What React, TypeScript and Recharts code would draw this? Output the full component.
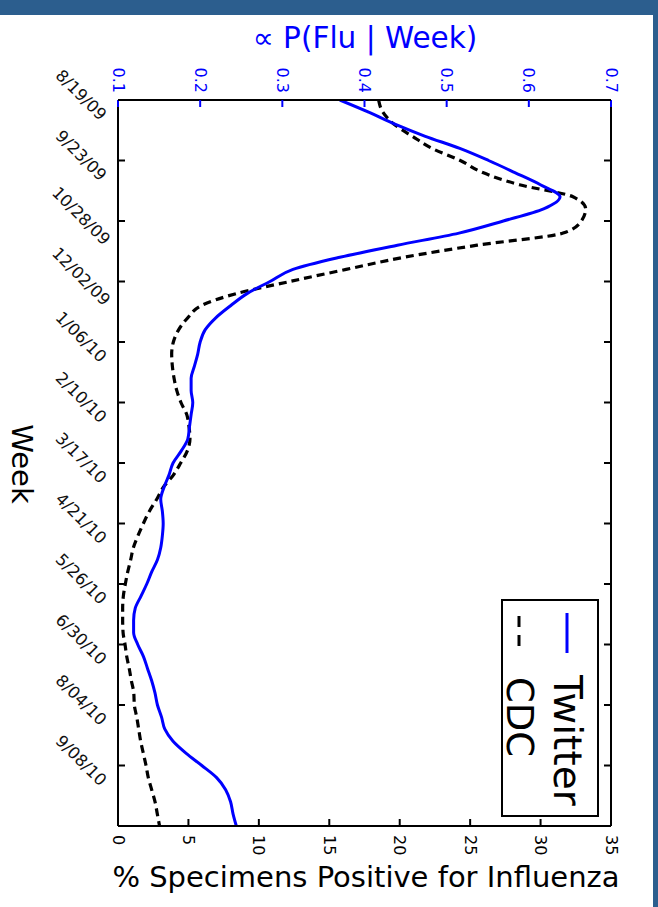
import React from 'react';
import { LineChart, Line, XAxis, YAxis } from 'recharts';

const weeks = [
  0, 1, 2, 3, 4, 5, 6, 7, 8, 9, 10, 11, 12, 13, 14, 15, 16, 17, 18, 19, 20,
  21, 22, 23, 24, 25, 26, 27, 28, 29, 30, 31, 32, 33, 34, 35, 36, 37, 38, 39, 40,
  41, 42, 43, 44, 45, 46, 47, 48, 49, 50, 51, 52, 53, 54, 55, 56, 57, 58, 59, 60,
];

const twitter = [
  0.370, 0.405, 0.437, 0.474, 0.516, 0.551, 0.583, 0.614, 0.638, 0.618, 0.569,
  0.515, 0.440, 0.370, 0.313, 0.285, 0.257, 0.237, 0.219, 0.206, 0.200,
  0.197, 0.193, 0.189, 0.189, 0.191, 0.189, 0.187, 0.185, 0.177, 0.167,
  0.162, 0.156, 0.152, 0.154, 0.155, 0.154, 0.152, 0.148, 0.141, 0.135,
  0.128, 0.121, 0.119, 0.119, 0.124, 0.131, 0.136, 0.141, 0.145, 0.148,
  0.153, 0.157, 0.167, 0.183, 0.202, 0.220, 0.231, 0.237, 0.240, 0.244,
];

const cdc = [
  18.5, 18.8, 19.6, 20.9, 22.3, 24.3, 25.9, 28.5, 32.3, 33.2, 32.9,
  31.6, 25.5, 20.3, 16.2, 12.2, 8.4, 5.9, 4.95, 4.3, 3.93,
  3.81, 3.86, 3.98, 4.17, 4.47, 4.88, 5.04, 5.11, 4.92, 4.45,
  3.93, 3.22, 2.75, 2.22, 1.8, 1.42, 1.09, 0.9, 0.69, 0.52,
  0.38, 0.33, 0.33, 0.36, 0.5, 0.62, 0.8, 0.95, 1.12, 1.16,
  1.33, 1.47, 1.61, 1.8, 1.99, 2.15, 2.39, 2.63, 2.79, 2.95,
];

const weekTicks = [0, 5, 10, 15, 20, 25, 30, 35, 40, 45, 50, 55];
const weekLabels = [
  '8/19/09', '9/23/09', '10/28/09', '12/02/09', '1/06/10', '2/10/10',
  '3/17/10', '4/21/10', '5/26/10', '6/30/10', '8/04/10', '9/08/10',
];
const flwTicks = [0.1, 0.2, 0.3, 0.4, 0.5, 0.6, 0.7];
const pctTicks = [0, 5, 10, 15, 20, 25, 30, 35];

const data = weeks.map((w, i) => ({ week: w, twitter: twitter[i], cdc: cdc[i] }));

const FONT = 'DejaVu Sans';
const BLUE = '#0000ff';

const TopTick = (props: any) => {
  const { x, y, payload } = props;
  return (
    <g>
      <line x1={x} y1={y} x2={x} y2={y + 7} stroke={BLUE} strokeWidth={2} />
      <text
        x={x}
        y={y - 7}
        transform={`rotate(90 ${x} ${y - 7})`}
        textAnchor="end"
        dominantBaseline="central"
        fill={BLUE}
        fontSize={16}
        fontFamily={FONT}
      >
        {Number(payload.value).toFixed(1)}
      </text>
    </g>
  );
};

const BottomTick = (props: any) => {
  const { x, y, payload } = props;
  return (
    <g>
      <line x1={x} y1={y} x2={x} y2={y - 7} stroke="#000" strokeWidth={2} />
      <text
        x={x}
        y={y + 9}
        transform={`rotate(90 ${x} ${y + 9})`}
        textAnchor="start"
        dominantBaseline="central"
        fill="#000"
        fontSize={16}
        fontFamily={FONT}
      >
        {String(payload.value)}
      </text>
    </g>
  );
};

const LeftTick = (props: any) => {
  const { x, y, payload } = props;
  const idx = weekTicks.indexOf(payload.value);
  const cx = x - 37;
  const cy = y - 5;
  return (
    <g>
      <line x1={x} y1={y} x2={x + 7} y2={y} stroke="#000" strokeWidth={2} />
      <text
        x={cx}
        y={cy}
        transform={`rotate(45 ${cx} ${cy})`}
        textAnchor="middle"
        dominantBaseline="central"
        fill="#111"
        fontSize={16.5}
        fontFamily={FONT}
      >
        {idx >= 0 ? weekLabels[idx] : ''}
      </text>
    </g>
  );
};

const RightTick = (props: any) => {
  const { x, y } = props;
  return <line x1={x} y1={y} x2={x - 7} y2={y} stroke="#000" strokeWidth={2} />;
};

export default function App() {
  return (
    <div
      style={{
        position: 'absolute',
        left: 0,
        top: 0,
        width: 658,
        height: 907,
        background: '#fff',
        overflow: 'hidden',
      }}
    >
      <LineChart
        layout="vertical"
        width={658}
        height={907}
        data={data}
        margin={{ top: 0, right: 0, bottom: 0, left: 0 }}
      >
        <XAxis
          xAxisId="top"
          orientation="top"
          type="number"
          domain={[0.1, 0.7]}
          ticks={flwTicks}
          interval={0}
          allowDataOverflow
          height={100}
          axisLine={{ stroke: '#000', strokeWidth: 2 }}
          tickLine={false}
          tickSize={0}
          tickMargin={0}
          tick={TopTick}
        />
        <XAxis
          xAxisId="bottom"
          orientation="bottom"
          type="number"
          domain={[0, 35]}
          ticks={pctTicks}
          interval={0}
          allowDataOverflow
          height={81}
          axisLine={{ stroke: '#000', strokeWidth: 2 }}
          tickLine={false}
          tickSize={0}
          tickMargin={0}
          tick={BottomTick}
        />
        <YAxis
          yAxisId="left"
          orientation="left"
          type="number"
          dataKey="week"
          domain={[0, 60]}
          ticks={weekTicks}
          interval={0}
          allowDataOverflow
          width={118}
          axisLine={{ stroke: '#000', strokeWidth: 2 }}
          tickLine={false}
          tickSize={0}
          tickMargin={0}
          tick={LeftTick}
        />
        <YAxis
          yAxisId="right"
          orientation="right"
          type="number"
          dataKey="week"
          domain={[0, 60]}
          ticks={weekTicks}
          interval={0}
          allowDataOverflow
          width={47}
          axisLine={{ stroke: '#000', strokeWidth: 2 }}
          tickLine={false}
          tickSize={0}
          tickMargin={0}
          tick={RightTick}
        />
        <Line
          xAxisId="bottom"
          yAxisId="left"
          dataKey="cdc"
          type="monotone"
          stroke="#000"
          strokeWidth={3.2}
          strokeDasharray="8 5"
          dot={false}
          isAnimationActive={false}
        />
        <Line
          xAxisId="top"
          yAxisId="left"
          dataKey="twitter"
          type="monotone"
          stroke={BLUE}
          strokeWidth={3}
          dot={false}
          isAnimationActive={false}
        />
      </LineChart>
      <svg
        width={658}
        height={907}
        style={{ position: 'absolute', left: 0, top: 0, pointerEvents: 'none' }}
      >
        <rect x={0} y={0} width={658} height={15} fill="#2c5e8e" />
        <rect x={653} y={0} width={5} height={907} fill="#2c5e8e" />
        <text
          x={365}
          y={48}
          textAnchor="middle"
          fill={BLUE}
          fontSize={29.5}
          fontFamily={FONT}
        >
          ∝ P(Flu | Week)
        </text>
        <text
          x={366}
          y={887}
          textAnchor="middle"
          fill="#000"
          fontSize={29}
          fontFamily={FONT}
        >
          % Specimens Positive for Influenza
        </text>
        <text
          x={22}
          y={464}
          transform="rotate(90 22 464)"
          textAnchor="middle"
          dominantBaseline="central"
          fill="#000"
          fontSize={29}
          fontFamily={FONT}
        >
          Week
        </text>
        <rect x={502} y={600} width={96} height={216} fill="#fff" stroke="#000" strokeWidth={2} />
        <line x1={567} y1={613} x2={567} y2={653} stroke={BLUE} strokeWidth={3} />
        <line x1={519} y1={616} x2={519} y2={647} stroke="#000" strokeWidth={3} strokeDasharray="11 8" />
        <text
          x={567}
          y={675}
          transform="rotate(90 567 675)"
          textAnchor="start"
          dominantBaseline="central"
          fill="#000"
          fontSize={39}
          fontFamily={FONT}
        >
          Twitter
        </text>
        <text
          x={519}
          y={677}
          transform="rotate(90 519 677)"
          textAnchor="start"
          dominantBaseline="central"
          fill="#000"
          fontSize={37}
          fontFamily={FONT}
        >
          CDC
        </text>
      </svg>
    </div>
  );
}
